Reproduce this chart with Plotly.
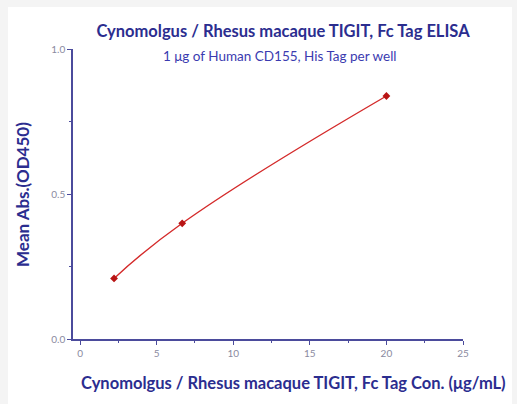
import plotly.graph_objects as go

conc = [2.22, 6.67, 20.0]
od450 = [0.209, 0.399, 0.838]

x_ticks = [0, 5, 10, 15, 20, 25]
y_ticks = [0.0, 0.5, 1.0]
y_tick_text = ["0.0", "0.5", "1.0"]

title_text = "Cynomolgus / Rhesus macaque TIGIT, Fc Tag ELISA"
subtitle_text = "1 μg of Human CD155, His Tag per well"
x_title = "Cynomolgus / Rhesus macaque TIGIT, Fc Tag Con. (μg/mL)"
y_title = "Mean Abs.(OD450)"

AX = "#4b4b9c"
DARK = "#2b2d8f"
RED = "#d42a2a"

fig = go.Figure()
fig.add_trace(go.Scatter(
    x=conc, y=od450, mode="lines+markers",
    line=dict(color=RED, width=1.4, shape="spline", smoothing=1.3),
    marker=dict(symbol="diamond", size=6, color="#b81414"),
    showlegend=False,
))

W, H = 517, 404
L, R, T, B = 73, 54, 49, 65
pw, ph = W - L - R, H - T - B

def px(x):
    return (x - L) / pw

def py(y):
    return (H - B - y) / ph

fig.update_layout(
    width=W, height=H,
    margin=dict(l=L, r=R, t=T, b=B, pad=0),
    paper_bgcolor="#f4f4f4",
    plot_bgcolor="rgba(0,0,0,0)",
    font=dict(family="Lato", color=DARK),
    title=dict(text="<b>" + title_text + "</b>", x=283 / W, y=1 - 31 / H,
               xanchor="center", yanchor="middle",
               font=dict(family="Lato", size=16.5, color=DARK)),
    shapes=[dict(type="rect", xref="paper", yref="paper",
                 x0=px(8), x1=px(512), y0=py(404), y1=py(7),
                 fillcolor="white", line=dict(width=0), layer="below")],
    annotations=[
        dict(text=subtitle_text, xref="paper", yref="paper",
             x=px(280), y=py(56), xanchor="center", yanchor="middle",
             showarrow=False, font=dict(family="Lato", size=13.5, color="#3b3bb0")),
        dict(text="<b>" + x_title + "</b>", xref="paper", yref="paper",
             x=px(293), y=py(383), xanchor="center", yanchor="middle",
             showarrow=False, font=dict(family="Lato", size=16.5, color=DARK)),
        dict(text="<b>" + y_title + "</b>", xref="paper", yref="paper",
             x=px(22), y=py(195), xanchor="center", yanchor="middle",
             textangle=-90, showarrow=False,
             font=dict(family="Lato", size=17, color=DARK)),
    ],
    xaxis=dict(range=[-0.46, 25], tickvals=x_ticks, showgrid=False, zeroline=False,
               showline=True, linecolor=AX, linewidth=1.5,
               ticks="outside", ticklen=4, tickcolor=AX, tickwidth=1.3,
               tickfont=dict(family="Lato", size=10, color="#8a8aa0"),
               minor=dict(ticks="outside", ticklen=2, tickcolor=AX, dtick=2.5, tick0=0)),
    yaxis=dict(range=[0, 1.0], tickvals=y_ticks, ticktext=y_tick_text,
               showgrid=False, zeroline=False,
               showline=True, linecolor=AX, linewidth=1.5,
               ticks="outside", ticklen=4, tickcolor=AX, tickwidth=1.3,
               tickfont=dict(family="Lato", size=10, color="#8a8aa0"),
               minor=dict(ticks="outside", ticklen=2, tickcolor=AX, dtick=0.25, tick0=0)),
)

fig.write_html("out.html", config={"displayModeBar": False},
               post_script="document.body.style.margin='0';document.body.style.overflow='hidden';")
